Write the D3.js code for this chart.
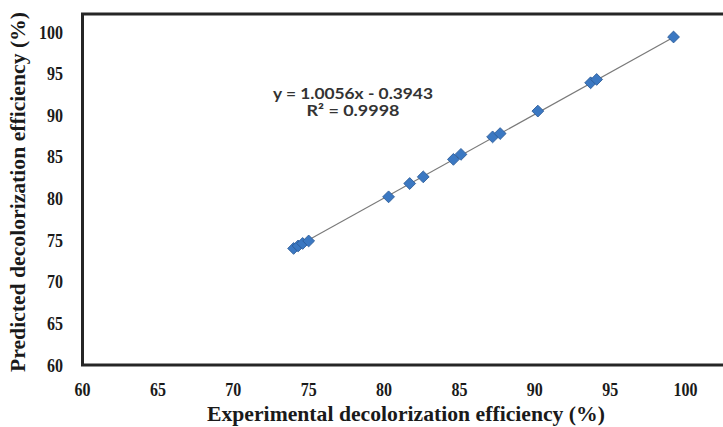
<!DOCTYPE html>
<html>
<head>
<meta charset="utf-8">
<script src="https://cdn.jsdelivr.net/npm/d3@7"></script>
<style>
  body { margin: 0; background: #fff; }
  svg { display: block; }
</style>
</head>
<body>
<div id="chart"></div>
<script>
// experimental vs predicted decolorization efficiency (%)
const experimental = [74.0, 74.3, 74.6, 75.0, 80.3, 81.7, 82.6, 84.6, 85.1, 87.2, 87.7, 90.2, 93.7, 94.1, 99.2]
const predicted = [74.0, 74.3, 74.6, 74.9, 80.2, 81.8, 82.6, 84.7, 85.3, 87.4, 87.8, 90.5, 93.9, 94.3, 99.4]
const xTicks = [60, 65, 70, 75, 80, 85, 90, 95, 100]
const yTicks = [60, 65, 70, 75, 80, 85, 90, 95, 100]
const slope = 1.0056
const intercept = -0.3943
const equationLines = ['y = 1.0056x - 0.3943', 'R² = 0.9998']

const width = 723
const height = 427

const svg = d3
  .select('#chart')
  .append('svg')
  .attr('width', width)
  .attr('height', height)
  .style('background', 'white')

// the plot frame runs off the right edge of the picture
const xPositionScale = d3.scaleLinear().domain([60, 105]).range([82.5, 761])
const yPositionScale = d3.scaleLinear().domain([60, 100]).range([365, 32])

const points = experimental.map((d, i) => ({ x: d, y: predicted[i] }))

// trendline over the data range
const xExtent = d3.extent(experimental)
svg
  .append('line')
  .attr('x1', xPositionScale(xExtent[0]))
  .attr('y1', yPositionScale(slope * xExtent[0] + intercept))
  .attr('x2', xPositionScale(xExtent[1]))
  .attr('y2', yPositionScale(slope * xExtent[1] + intercept))
  .attr('stroke', '#7a7a7a')
  .attr('stroke-width', 1.2)

const marker = d3.symbol().type(d3.symbolSquare).size(70)

svg
  .append('g')
  .selectAll('path')
  .data(points)
  .enter()
  .append('path')
  .attr('d', marker)
  .attr('transform', d => `translate(${xPositionScale(d.x)},${yPositionScale(d.y)}) rotate(45)`)
  .attr('fill', '#3b78c2')
  .attr('stroke', '#2a5a96')
  .attr('stroke-width', 0.8)

// frame
svg
  .append('rect')
  .attr('x', xPositionScale(60))
  .attr('y', 14)
  .attr('width', xPositionScale(105) - xPositionScale(60))
  .attr('height', yPositionScale(60) - 14)
  .attr('fill', 'none')
  .attr('stroke', '#262626')
  .attr('stroke-width', 3)

const tickFont = '"Liberation Serif", "Times New Roman", serif'

// tick labels in the picture are tall and narrow
svg
  .append('g')
  .selectAll('text')
  .data(xTicks)
  .enter()
  .append('text')
  .attr('x', d => xPositionScale(d))
  .attr('y', 396)
  .attr('text-anchor', 'middle')
  .attr('font-family', tickFont)
  .attr('font-weight', 'bold')
  .attr('font-size', 19)
  .attr('textLength', d => String(d).length * 8)
  .attr('lengthAdjust', 'spacingAndGlyphs')
  .attr('fill', '#1a1a1a')
  .text(d => d)

svg
  .append('g')
  .selectAll('text')
  .data(yTicks)
  .enter()
  .append('text')
  .attr('x', 63)
  .attr('y', d => yPositionScale(d) + 6.5)
  .attr('text-anchor', 'end')
  .attr('font-family', tickFont)
  .attr('font-weight', 'bold')
  .attr('font-size', 19)
  .attr('textLength', d => String(d).length * 8)
  .attr('lengthAdjust', 'spacingAndGlyphs')
  .attr('fill', '#1a1a1a')
  .text(d => d)

svg
  .append('text')
  .attr('x', 406)
  .attr('y', 421)
  .attr('text-anchor', 'middle')
  .attr('font-family', tickFont)
  .attr('font-weight', 'bold')
  .attr('font-size', 22)
  .attr('textLength', 398)
  .attr('lengthAdjust', 'spacingAndGlyphs')
  .attr('fill', '#1a1a1a')
  .text('Experimental decolorization efficiency (%)')

svg
  .append('text')
  .attr('transform', 'translate(25,192) rotate(-90)')
  .attr('text-anchor', 'middle')
  .attr('font-family', tickFont)
  .attr('font-weight', 'bold')
  .attr('font-size', 22)
  .attr('textLength', 360)
  .attr('lengthAdjust', 'spacingAndGlyphs')
  .attr('fill', '#1a1a1a')
  .text('Predicted decolorization efficiency (%)')

// regression label
svg
  .append('g')
  .selectAll('text')
  .data(equationLines)
  .enter()
  .append('text')
  .attr('x', 353)
  .attr('y', (d, i) => 99 + i * 17)
  .attr('text-anchor', 'middle')
  .attr('font-family', 'Lato, "Open Sans", sans-serif')
  .attr('font-weight', 'bold')
  .attr('font-size', 14.5)
  .attr('textLength', (d, i) => (i === 0 ? 160 : 93))
  .attr('lengthAdjust', 'spacingAndGlyphs')
  .attr('fill', '#333')
  .text(d => d)
</script>
</body>
</html>
